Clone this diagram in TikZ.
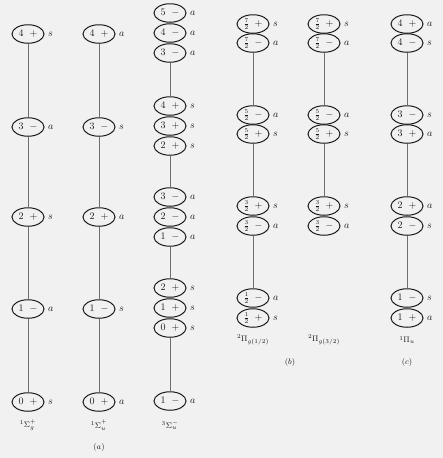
\documentclass[tikz,border=0pt]{standalone}
\usetikzlibrary{shapes.geometric}
\definecolor{paper}{RGB}{240,241,240}
\definecolor{ink}{RGB}{25,25,25}
\definecolor{wire}{RGB}{110,110,110}
\tikzset{
  lev/.style={ellipse, draw=ink, line width=1pt, minimum width=32pt, minimum height=18.5pt, inner sep=0pt, text=ink, font=\fontsize{10}{12}\selectfont},
  sym/.style={anchor=west, inner sep=0pt, text=ink, font=\fontsize{10}{12}\selectfont},
  wirec/.style={draw=wire, line width=0.6pt},
  captxt/.style={inner sep=0pt, text=ink, font=\fontsize{8.5}{10}\selectfont},
}
\newcommand\mylev[6]{%
  \node[lev] (#1) at (#2,#3) {\makebox[19pt]{#4\hfill#5}};
  \node[sym] (#1s) at ([xshift=3.5pt]#1.east) {$#6$};}
\newcommand\fr[1]{{\fontsize{8}{9}\selectfont$\frac{#1}{2}$}}
\newcommand\upplus{\raisebox{1.5pt}{$\scriptstyle+$}}
\begin{document}
\begin{tikzpicture}[x=1pt,y=-1pt]
\fill[paper] (0,0) rectangle (443,458);
\useasboundingbox (0,0) rectangle (443,458);
% column a1
\mylev{aa4}{28}{34}{4}{$+$}{s}
\mylev{aa3}{28}{127}{3}{$-$}{a}
\mylev{aa2}{28}{217}{2}{$+$}{s}
\mylev{aa1}{28}{309}{1}{$-$}{a}
\mylev{aa0}{28}{402}{0}{$+$}{s}
% column a2
\mylev{ab4}{99}{34}{4}{$+$}{a}
\mylev{ab3}{99}{127}{3}{$-$}{s}
\mylev{ab2}{99}{217}{2}{$+$}{a}
\mylev{ab1}{99}{309}{1}{$-$}{s}
\mylev{ab0}{99}{402}{0}{$+$}{a}
% column a3
\mylev{ac1}{170}{13}{5}{$-$}{a}
\mylev{ac2}{170}{33}{4}{$-$}{a}
\mylev{ac3}{170}{53}{3}{$-$}{a}
\mylev{ac4}{170}{106}{4}{$+$}{s}
\mylev{ac5}{170}{126}{3}{$+$}{s}
\mylev{ac6}{170}{146}{2}{$+$}{s}
\mylev{ac7}{170}{197}{3}{$-$}{a}
\mylev{ac8}{170}{217}{2}{$-$}{a}
\mylev{ac9}{170}{237}{1}{$-$}{a}
\mylev{ac10}{170}{288}{2}{$+$}{s}
\mylev{ac11}{170}{308}{1}{$+$}{s}
\mylev{ac12}{170}{328}{0}{$+$}{s}
\mylev{ac13}{170}{401}{1}{$-$}{a}
% column b1
\mylev{ba1}{253}{24}{\fr7}{$+$}{s}
\mylev{ba2}{253}{43}{\fr7}{$-$}{a}
\mylev{ba3}{253}{115}{\fr5}{$-$}{a}
\mylev{ba4}{253}{134}{\fr5}{$+$}{s}
\mylev{ba5}{253}{206}{\fr3}{$+$}{s}
\mylev{ba6}{253}{226}{\fr3}{$-$}{a}
\mylev{ba7}{253}{298}{\fr1}{$-$}{a}
\mylev{ba8}{253}{318}{\fr1}{$+$}{s}
% column b2
\mylev{bb1}{324}{24}{\fr7}{$+$}{s}
\mylev{bb2}{324}{43}{\fr7}{$-$}{a}
\mylev{bb3}{324}{115}{\fr5}{$-$}{a}
\mylev{bb4}{324}{134}{\fr5}{$+$}{s}
\mylev{bb5}{324}{206}{\fr3}{$+$}{s}
\mylev{bb6}{324}{226}{\fr3}{$-$}{a}
% column c
\mylev{ca1}{407}{24}{4}{$+$}{a}
\mylev{ca2}{407}{43}{4}{$-$}{s}
\mylev{ca3}{407}{115}{3}{$-$}{s}
\mylev{ca4}{407}{134}{3}{$+$}{a}
\mylev{ca5}{407}{206}{2}{$+$}{a}
\mylev{ca6}{407}{226}{2}{$-$}{s}
\mylev{ca7}{407}{298}{1}{$-$}{s}
\mylev{ca8}{407}{318}{1}{$+$}{a}
% connectors
\path[wirec] (aa4) -- (aa3) (aa3) -- (aa2) (aa2) -- (aa1) (aa1) -- (aa0);
\path[wirec] (ab4) -- (ab3) (ab3) -- (ab2) (ab2) -- (ab1) (ab1) -- (ab0);
\path[wirec] (ac3) -- (ac4) (ac6) -- (ac7) (ac9) -- (ac10) (ac12) -- (ac13);
\path[wirec] (ba2) -- (ba3) (ba4) -- (ba5) (ba6) -- (ba7);
\path[wirec] (bb2) -- (bb3) (bb4) -- (bb5);
\path[wirec] (ca2) -- (ca3) (ca4) -- (ca5) (ca6) -- (ca7);
% captions
\node[captxt] (la1) at (28,425) {$^1\Sigma_g^{\upplus}$};
\node[captxt] (la2) at (99,425) {$^1\Sigma_u^{\upplus}$};
\node[captxt] (la3) at (170,425) {$^3\Sigma_u^-$};
\node[captxt] (pa) at (99,447) {$(a)$};
\node[captxt] (lb1) at (253,340) {$^2\Pi_{g(1/2)}$};
\node[captxt] (lb2) at (324,340) {$^2\Pi_{g(3/2)}$};
\node[captxt] (lc) at (407,340) {$^1\Pi_u$};
\node[captxt] (pb) at (290,362) {$(b)$};
\node[captxt] (pc) at (407,362) {$(c)$};
\end{tikzpicture}
\end{document}
